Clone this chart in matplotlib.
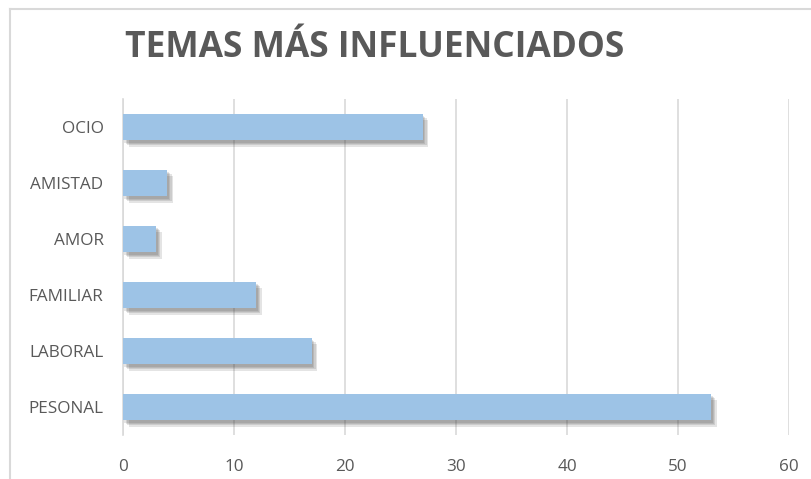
import matplotlib
matplotlib.use("Agg")
import matplotlib.pyplot as plt
import matplotlib.patheffects as pe
from matplotlib.lines import Line2D
import numpy as np

# Data (top to bottom as shown)
categories = ["OCIO", "AMISTAD", "AMOR", "FAMILIAR", "LABORAL", "PESONAL"]
values = [27, 4, 3, 12, 17, 53]
xticks = [0, 10, 20, 30, 40, 50, 60]

plt.rcParams["font.family"] = ["Open Sans", "DejaVu Sans"]
text_col = "#595959"
bar_col = "#9DC3E6"
grid_col = "#D9D9D9"

fig = plt.figure(figsize=(8.11, 4.79), dpi=100)
ax = fig.add_axes([123 / 811, 1 - 435 / 479, 666 / 811, 336 / 479])

# Chart area border (Excel style)
fig.add_artist(Line2D([10 / 811, 10 / 811], [1 - 9 / 479, 0.0], color=grid_col, lw=1.5,
                      transform=fig.transFigure))
fig.add_artist(Line2D([10 / 811, 1.0], [1 - 9 / 479, 1 - 9 / 479], color=grid_col, lw=1.5,
                      transform=fig.transFigure))

y = np.arange(len(categories))
bars = ax.barh(y, values, height=0.48, color=bar_col, zorder=3)
# soft shadow: a few faint offset layers
shadow = [pe.SimplePatchShadow(offset=(o, -o - 0.5), shadow_rgbFace="#404040", alpha=0.14)
          for o in (1, 2, 3, 4)]
for b in bars:
    b.set_path_effects(shadow + [pe.Normal()])

ax.set_ylim(len(categories) - 0.5, -0.5)
ax.set_xlim(0, 60)
ax.set_xticks(xticks)
ax.set_yticks(y)
ax.set_yticklabels(categories)
ax.tick_params(axis="both", length=0, colors=text_col, labelsize=12.3)
ax.tick_params(axis="x", pad=17)
ax.tick_params(axis="y", pad=14)

ax.grid(axis="x", color=grid_col, lw=1.2, zorder=0)
for s in ["top", "right", "bottom"]:
    ax.spines[s].set_visible(False)
ax.spines["left"].set_color(grid_col)
ax.spines["left"].set_linewidth(1.2)

fig.text(375 / 811, 1 - 48 / 479, "TEMAS MÁS INFLUENCIADOS", ha="center", va="center",
         fontsize=25.5, fontweight="bold", color=text_col)

fig.savefig("out.png", dpi=100)
plt.close(fig)
